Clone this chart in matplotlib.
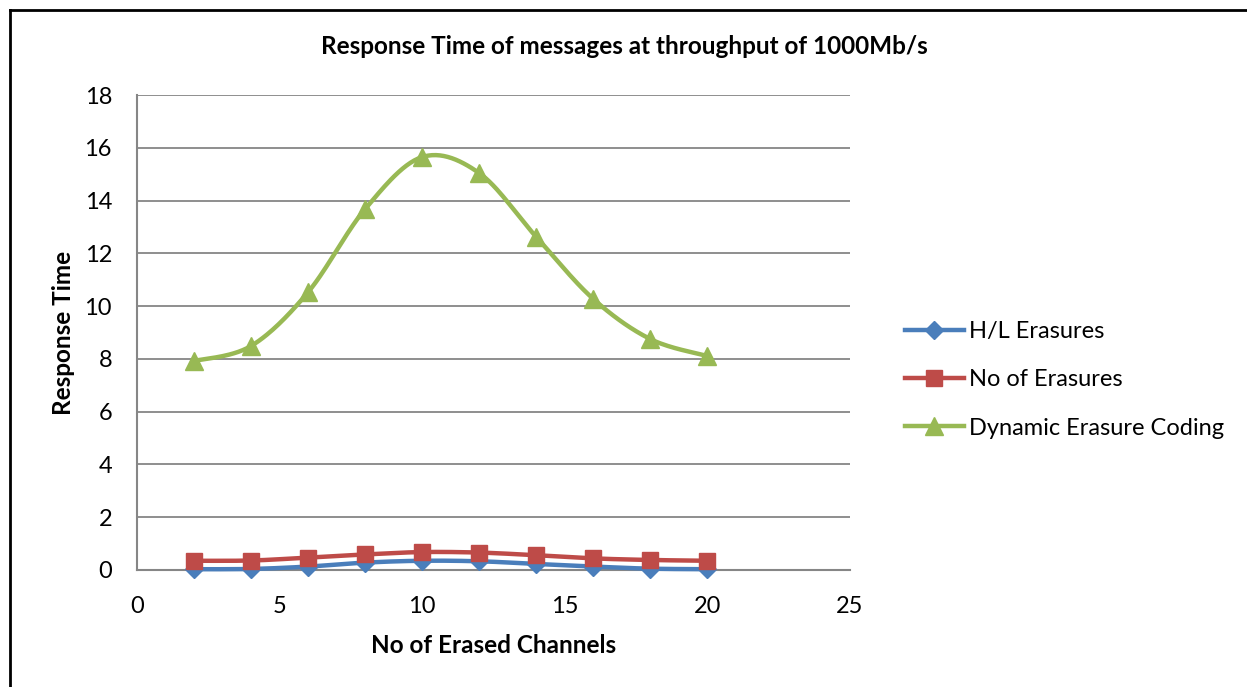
import numpy as np
import matplotlib
matplotlib.use("Agg")
import matplotlib.pyplot as plt
from matplotlib.lines import Line2D

x_channels = [2, 4, 6, 8, 10, 12, 14, 16, 18, 20]
hl_erasures = [0.03, 0.04, 0.13, 0.28, 0.35, 0.33, 0.23, 0.13, 0.05, 0.03]
no_erasures = [0.35, 0.36, 0.47, 0.59, 0.68, 0.66, 0.56, 0.44, 0.38, 0.35]
dynamic_coding = [7.92, 8.49, 10.53, 13.68, 15.65, 15.04, 12.62, 10.27, 8.75, 8.11]
series_names = ["H/L Erasures", "No of Erasures", "Dynamic Erasure Coding"]
x_ticks = [0, 5, 10, 15, 20, 25]
y_ticks = [0, 2, 4, 6, 8, 10, 12, 14, 16, 18]

plt.rcParams['font.family'] = ['Lato', 'DejaVu Sans']


def smooth(xs, ys, n=30):
    xs = np.asarray(xs, float)
    ys = np.asarray(ys, float)
    px = np.concatenate([[2 * xs[0] - xs[1]], xs, [2 * xs[-1] - xs[-2]]])
    py = np.concatenate([[ys[0]], ys, [ys[-1]]])
    outx, outy = [], []
    for i in range(1, len(px) - 2):
        p0x, p1x, p2x, p3x = px[i - 1], px[i], px[i + 1], px[i + 2]
        p0y, p1y, p2y, p3y = py[i - 1], py[i], py[i + 1], py[i + 2]
        if i == 1:
            p0x, p0y = p1x, p1y
        if i == len(px) - 3:
            p3x, p3y = p2x, p2y
        c1x = p1x + (p2x - p0x) / 6
        c1y = p1y + (p2y - p0y) / 6
        c2x = p2x - (p3x - p1x) / 6
        c2y = p2y - (p3y - p1y) / 6
        t = np.linspace(0, 1, n)
        bx = (1 - t) ** 3 * p1x + 3 * (1 - t) ** 2 * t * c1x + 3 * (1 - t) * t ** 2 * c2x + t ** 3 * p2x
        by = (1 - t) ** 3 * p1y + 3 * (1 - t) ** 2 * t * c1y + 3 * (1 - t) * t ** 2 * c2y + t ** 3 * p2y
        outx.extend(bx)
        outy.extend(by)
    return np.array(outx), np.array(outy)


fig = plt.figure(figsize=(12.47, 6.87), dpi=100)
ax = fig.add_axes([137 / 1247, 1 - 570 / 687, 713 / 1247, 475 / 687])

colors = ['#4A7EBB', '#BE4B48', '#98B954']
markers = ['D', 's', '^']
msizes = [9, 12, 13]
data = [hl_erasures, no_erasures, dynamic_coding]
handles = []
for name, ys, c, m, ms in zip(series_names, data, colors, markers, msizes):
    sx, sy = smooth(x_channels, ys)
    ax.plot(sx, sy, color=c, lw=3.2, solid_capstyle='round', clip_on=False, zorder=3)
    ax.plot(x_channels, ys, linestyle='none', marker=m, markersize=ms, color=c,
            markeredgecolor=c, clip_on=False, zorder=4)
    handles.append(Line2D([0], [0], color=c, lw=3.2, marker=m, markersize=ms, markeredgecolor=c))

ax.set_xlim(0, 25)
ax.set_ylim(0, 18)
ax.set_xticks(x_ticks)
ax.set_yticks(y_ticks)
ax.grid(axis='y', color='#868686', lw=1.3)
ax.set_axisbelow(True)
for s in ['top', 'right']:
    ax.spines[s].set_visible(False)
for s in ['left', 'bottom']:
    ax.spines[s].set_color('#868686')
    ax.spines[s].set_linewidth(1.5)
ax.tick_params(axis='y', length=0, labelsize=17, pad=18)
ax.tick_params(axis='x', length=0, labelsize=17, pad=19)

ax.set_xlabel("No of Erased Channels", fontsize=17.5, fontweight='bold', labelpad=12)
ax.set_ylabel("Response Time", fontsize=17.5, fontweight='bold', labelpad=7)
fig.text(0.5 + 0.5 / 1247, 1 - 47 / 687, "Response Time of messages at throughput of 1000Mb/s",
         ha='center', va='center', fontsize=17.5, fontweight='bold')

fig.legend(handles, series_names, loc='center left', bbox_to_anchor=(893 / 1247, 1 - 380 / 687),
           frameon=False, fontsize=17, handlelength=2.5, handletextpad=0.2, labelspacing=1.15,
           borderpad=0)

fig.add_artist(Line2D([10 / 1247, 10 / 1247], [0, 1 - 10 / 687], color='black', lw=2,
                      transform=fig.transFigure))
fig.add_artist(Line2D([10 / 1247, 1], [1 - 10 / 687, 1 - 10 / 687], color='black', lw=2,
                      transform=fig.transFigure))

fig.savefig("out.png", dpi=100, facecolor='white')
